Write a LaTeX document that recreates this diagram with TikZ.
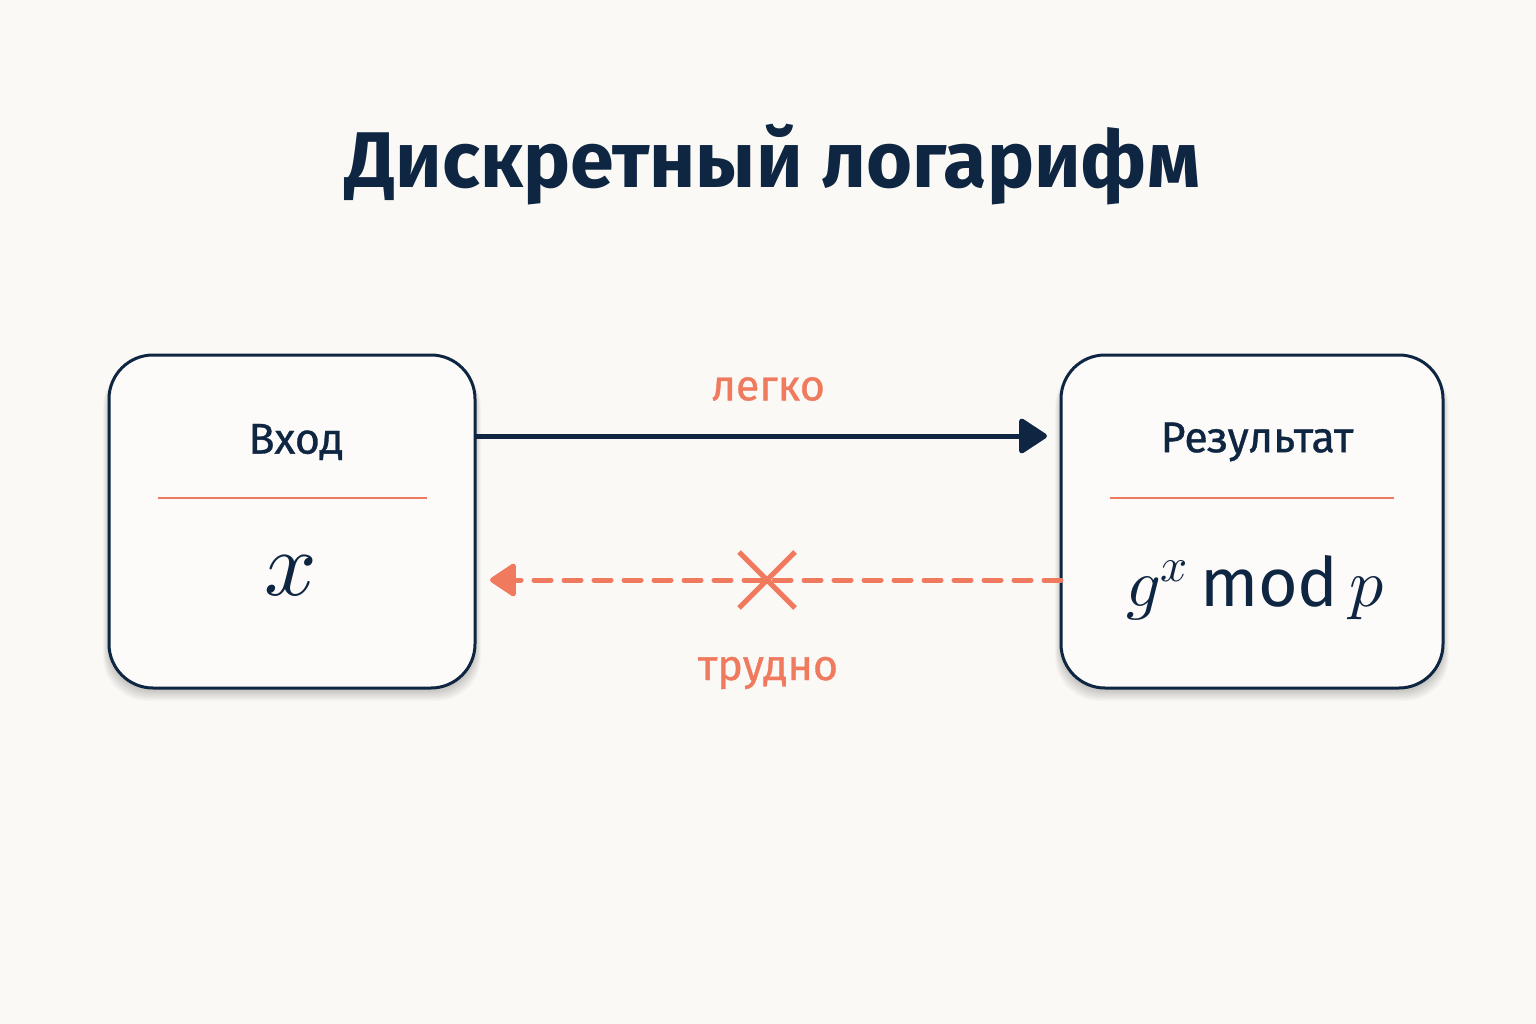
\documentclass[tikz,border=0pt]{standalone}
\usepackage{unicode-math}
\setmainfont{Fira Sans}
\setsansfont{Fira Sans}
\setmathfont{Latin Modern Math}
\usetikzlibrary{arrows.meta,calc}
\definecolor{bgc}{HTML}{FBF9F5}
\definecolor{navy}{HTML}{0E2642}
\definecolor{coral}{HTML}{F07A5E}
\newfontfamily\labfont{Fira Sans}[FakeBold=0.8]
\begin{document}
\begin{tikzpicture}[x=1pt,y=-1pt,
  box/.style={draw=navy,line width=3pt,rounded corners=44pt,fill=bgc!60!white},
  head/.style={text=navy,font=\fontsize{43}{50}\labfont},
  lbl/.style={text=coral,font=\fontsize{43}{50}\labfont},
  sep/.style={draw=coral,line width=1.5pt}]
\fill[bgc] (0,0) rectangle (1536,1024);
\useasboundingbox (0,0) rectangle (1536,1024);
\node[text=navy,font=\fontsize{79}{90}\selectfont\bfseries] (title) at (773,165) {Дискретный логарифм};
% soft shadows
\foreach \i in {1,...,10}{
  \fill[black,opacity=0.018,rounded corners=44pt] (109-\i*0.6,355+8) rectangle (475+\i*0.6,688+2+\i*1.1);
  \fill[black,opacity=0.018,rounded corners=44pt] (1061-\i*0.6,355+8) rectangle (1443+\i*0.6,688+2+\i*1.1);
}
% boxes
\draw[box] (109,355) rectangle (475,688);
\draw[box] (1061,355) rectangle (1443,688);
\coordinate (lE) at (475,436);
\coordinate (rW) at (1047,436);
\coordinate (rW2) at (1061,580);
\coordinate (lE2) at (490,580);
\node[head] (vin) at (296,442) {Вход};
\node[head] (res) at (1257,442) {Результат};
\coordinate (s1a) at (158,498); \coordinate (s1b) at (427,498);
\coordinate (s2a) at (1110,498); \coordinate (s2b) at (1394,498);
\draw[sep] (s1a) -- (s1b);
\draw[sep] (s2a) -- (s2b);
\node[text=navy,font=\fontsize{92}{100}\selectfont] (xv) at (291,576) {$x$};
\node[text=navy,font=\fontsize{68}{78}\selectfont] (gx) at (1256,588) {$g^{x}$\,mod\,$p$};
% arrows
\draw[navy,line width=5pt,-{Triangle[length=30pt,width=38pt,round]}] (lE) -- (rW);
\node[lbl] (easy) at (768,389) {легко};
\draw[coral,line width=5pt,dash pattern=on 17pt off 13pt,line cap=round,-{Triangle[length=28pt,width=36pt,round]}] (rW2) -- (lE2);
\coordinate (xc) at (767,580);
\draw[coral,line width=5pt] ($(xc)+(-28,-28)$) -- ($(xc)+(28,28)$) ($(xc)+(-28,28)$) -- ($(xc)+(28,-28)$);
\node[lbl] (hard) at (768,673) {трудно};
\end{tikzpicture}
\end{document}
